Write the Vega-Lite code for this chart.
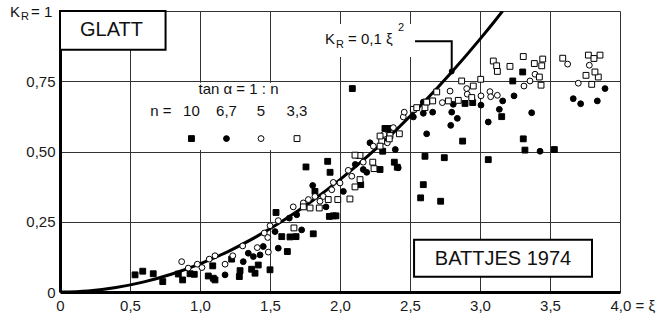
{
  "$schema": "https://vega.github.io/schema/vega-lite/v6.json",
  "width": 560,
  "height": 281,
  "autosize": {"type": "none"},
  "padding": {"left": 60, "top": 11, "right": 41, "bottom": 30},
  "background": "white",
  "config": {"view": {"stroke": null}, "text": {"font": "Liberation Sans", "color": "#111"}},
  "datasets": {
    "bg": [
      {"x": 0.54, "x2": 1.96, "y": 0.505, "y2": 0.745},
      {"x": 1.843, "x2": 2.514, "y": 0.836, "y2": 0.954}
    ],
    "boxes": [
      {"x": 0, "x2": 0.754, "y": 0.862, "y2": 1.0},
      {"x": 2.529, "x2": 3.8, "y": 0.054, "y2": 0.186}
    ],
    "curve": [
      {"x": 0, "y": 0}, {"x": 0.2, "y": 0.004}, {"x": 0.4, "y": 0.016}, {"x": 0.6, "y": 0.036},
      {"x": 0.8, "y": 0.064}, {"x": 1.0, "y": 0.1}, {"x": 1.2, "y": 0.144}, {"x": 1.4, "y": 0.196},
      {"x": 1.6, "y": 0.256}, {"x": 1.8, "y": 0.324}, {"x": 2.0, "y": 0.4}, {"x": 2.2, "y": 0.484},
      {"x": 2.4, "y": 0.576}, {"x": 2.6, "y": 0.676}, {"x": 2.8, "y": 0.784}, {"x": 3.0, "y": 0.9},
      {"x": 3.1, "y": 0.961}, {"x": 3.162, "y": 1.0}
    ],
    "leader": [
      {"x": 2.536, "y": 0.892, "o": 1},
      {"x": 2.798, "y": 0.892, "o": 2},
      {"x": 2.798, "y": 0.79, "o": 3}
    ],
    "dot": [{"x": 2.798, "y": 0.785}],
    "legpts": [
      {"x": 0.939, "y": 0.546, "n": "10"},
      {"x": 1.189, "y": 0.546, "n": "6,7"},
      {"x": 1.436, "y": 0.546, "n": "5"},
      {"x": 1.693, "y": 0.546, "n": "3,3"}
    ],
    "boxtext": [
      {"x": 0.368, "y": 0.932, "t": "GLATT"},
      {"x": 3.164, "y": 0.118, "t": "BATTJES 1974"}
    ],
    "legtext": [
      {"x": 1.275, "y": 0.721, "t": "tan α = 1 : n"},
      {"x": 0.721, "y": 0.645, "t": "n ="},
      {"x": 0.939, "y": 0.645, "t": "10"},
      {"x": 1.189, "y": 0.645, "t": "6,7"},
      {"x": 1.436, "y": 0.645, "t": "5"},
      {"x": 1.693, "y": 0.645, "t": "3,3"}
    ],
    "lefttext": [
      {"x": -0.357, "y": 0.998, "t": "K"},
      {"x": -0.207, "y": 0.996, "t": "= 1"},
      {"x": 1.893, "y": 0.9, "t": "K"},
      {"x": 2.057, "y": 0.9, "t": "= 0,1 ξ"}
    ],
    "smalltext": [
      {"x": -0.279, "y": 0.977, "t": "R"},
      {"x": 1.971, "y": 0.879, "t": "R"},
      {"x": 2.414, "y": 0.939, "t": "2"}
    ],
    "pts": [
      {"x": 0.536, "y": 0.061, "n": "10"}, {"x": 0.591, "y": 0.074, "n": "10"}, {"x": 0.666, "y": 0.065, "n": "10"},
      {"x": 0.734, "y": 0.037, "n": "10"}, {"x": 0.845, "y": 0.064, "n": "10"}, {"x": 0.876, "y": 0.043, "n": "10"},
      {"x": 0.929, "y": 0.065, "n": "10"}, {"x": 0.959, "y": 0.063, "n": "10"}, {"x": 1.059, "y": 0.057, "n": "10"},
      {"x": 1.095, "y": 0.049, "n": "10"}, {"x": 1.091, "y": 0.093, "n": "10"}, {"x": 1.107, "y": 0.043, "n": "10"},
      {"x": 1.286, "y": 0.076, "n": "10"}, {"x": 1.281, "y": 0.055, "n": "10"}, {"x": 1.226, "y": 0.117, "n": "10"},
      {"x": 1.369, "y": 0.081, "n": "10"}, {"x": 1.393, "y": 0.067, "n": "10"}, {"x": 1.416, "y": 0.096, "n": "10"},
      {"x": 1.5, "y": 0.079, "n": "10"}, {"x": 1.543, "y": 0.283, "n": "10"}, {"x": 1.584, "y": 0.197, "n": "10"},
      {"x": 1.624, "y": 0.144, "n": "10"}, {"x": 1.643, "y": 0.196, "n": "10"}, {"x": 1.686, "y": 0.197, "n": "10"},
      {"x": 1.809, "y": 0.207, "n": "10"}, {"x": 1.757, "y": 0.445, "n": "10"}, {"x": 1.821, "y": 0.358, "n": "10"},
      {"x": 1.912, "y": 0.465, "n": "10"}, {"x": 1.929, "y": 0.426, "n": "10"}, {"x": 1.924, "y": 0.269, "n": "10"},
      {"x": 1.952, "y": 0.271, "n": "10"}, {"x": 1.971, "y": 0.271, "n": "10"}, {"x": 2.088, "y": 0.724, "n": "10"},
      {"x": 2.286, "y": 0.436, "n": "10"}, {"x": 2.305, "y": 0.501, "n": "10"}, {"x": 2.388, "y": 0.462, "n": "10"},
      {"x": 2.409, "y": 0.444, "n": "10"}, {"x": 2.148, "y": 0.382, "n": "10"}, {"x": 2.321, "y": 0.582, "n": "10"},
      {"x": 2.345, "y": 0.582, "n": "10"}, {"x": 2.595, "y": 0.382, "n": "10"}, {"x": 2.576, "y": 0.335, "n": "10"},
      {"x": 2.719, "y": 0.323, "n": "10"}, {"x": 2.607, "y": 0.483, "n": "10"}, {"x": 2.745, "y": 0.478, "n": "10"},
      {"x": 2.876, "y": 0.537, "n": "10"}, {"x": 3.059, "y": 0.471, "n": "10"}, {"x": 2.893, "y": 0.671, "n": "10"},
      {"x": 2.948, "y": 0.674, "n": "10"}, {"x": 3.155, "y": 0.624, "n": "10"}, {"x": 3.234, "y": 0.751, "n": "10"},
      {"x": 3.305, "y": 0.783, "n": "10"}, {"x": 3.309, "y": 0.545, "n": "10"}, {"x": 3.321, "y": 0.505, "n": "10"},
      {"x": 3.531, "y": 0.507, "n": "10"},

      {"x": 1.179, "y": 0.061, "n": "6,7"}, {"x": 1.345, "y": 0.138, "n": "6,7"}, {"x": 1.381, "y": 0.126, "n": "6,7"},
      {"x": 1.429, "y": 0.132, "n": "6,7"}, {"x": 1.452, "y": 0.162, "n": "6,7"}, {"x": 1.536, "y": 0.215, "n": "6,7"},
      {"x": 1.559, "y": 0.156, "n": "6,7"}, {"x": 1.309, "y": 0.108, "n": "6,7"}, {"x": 1.726, "y": 0.221, "n": "6,7"},
      {"x": 1.638, "y": 0.263, "n": "6,7"}, {"x": 1.691, "y": 0.275, "n": "6,7"}, {"x": 1.805, "y": 0.379, "n": "6,7"},
      {"x": 1.9, "y": 0.303, "n": "6,7"}, {"x": 2.024, "y": 0.358, "n": "6,7"}, {"x": 2.109, "y": 0.454, "n": "6,7"},
      {"x": 2.166, "y": 0.436, "n": "6,7"}, {"x": 2.191, "y": 0.426, "n": "6,7"}, {"x": 2.214, "y": 0.531, "n": "6,7"},
      {"x": 2.395, "y": 0.507, "n": "6,7"}, {"x": 2.416, "y": 0.442, "n": "6,7"}, {"x": 2.341, "y": 0.579, "n": "6,7"},
      {"x": 2.524, "y": 0.623, "n": "6,7"}, {"x": 2.595, "y": 0.676, "n": "6,7"}, {"x": 2.595, "y": 0.636, "n": "6,7"},
      {"x": 2.662, "y": 0.64, "n": "6,7"}, {"x": 2.798, "y": 0.64, "n": "6,7"}, {"x": 2.809, "y": 0.668, "n": "6,7"},
      {"x": 2.838, "y": 0.618, "n": "6,7"}, {"x": 2.791, "y": 0.593, "n": "6,7"}, {"x": 2.619, "y": 0.563, "n": "6,7"},
      {"x": 3.007, "y": 0.665, "n": "6,7"}, {"x": 3.059, "y": 0.605, "n": "6,7"}, {"x": 3.138, "y": 0.65, "n": "6,7"},
      {"x": 3.162, "y": 0.68, "n": "6,7"}, {"x": 3.243, "y": 0.698, "n": "6,7"}, {"x": 3.369, "y": 0.638, "n": "6,7"},
      {"x": 3.429, "y": 0.501, "n": "6,7"}, {"x": 3.666, "y": 0.688, "n": "6,7"}, {"x": 3.719, "y": 0.67, "n": "6,7"},
      {"x": 3.838, "y": 0.68, "n": "6,7"}, {"x": 3.893, "y": 0.724, "n": "6,7"},

      {"x": 0.869, "y": 0.108, "n": "5"}, {"x": 0.916, "y": 0.085, "n": "5"}, {"x": 0.981, "y": 0.099, "n": "5"},
      {"x": 1.014, "y": 0.087, "n": "5"}, {"x": 1.066, "y": 0.117, "n": "5"}, {"x": 1.107, "y": 0.129, "n": "5"},
      {"x": 1.179, "y": 0.099, "n": "5"}, {"x": 1.234, "y": 0.129, "n": "5"}, {"x": 1.305, "y": 0.164, "n": "5"},
      {"x": 1.409, "y": 0.158, "n": "5"}, {"x": 1.459, "y": 0.21, "n": "5"}, {"x": 1.484, "y": 0.194, "n": "5"},
      {"x": 1.488, "y": 0.142, "n": "5"}, {"x": 1.5, "y": 0.236, "n": "5"}, {"x": 1.559, "y": 0.254, "n": "5"},
      {"x": 1.666, "y": 0.303, "n": "5"}, {"x": 1.738, "y": 0.317, "n": "5"}, {"x": 1.774, "y": 0.329, "n": "5"},
      {"x": 1.821, "y": 0.34, "n": "5"}, {"x": 1.857, "y": 0.323, "n": "5"}, {"x": 1.881, "y": 0.34, "n": "5"},
      {"x": 1.941, "y": 0.364, "n": "5"}, {"x": 1.952, "y": 0.39, "n": "5"}, {"x": 2.0, "y": 0.388, "n": "5"},
      {"x": 2.059, "y": 0.433, "n": "5"}, {"x": 2.084, "y": 0.412, "n": "5"}, {"x": 2.166, "y": 0.462, "n": "5"},
      {"x": 2.124, "y": 0.486, "n": "5"}, {"x": 2.238, "y": 0.519, "n": "5"}, {"x": 2.314, "y": 0.561, "n": "5"},
      {"x": 2.338, "y": 0.531, "n": "5"}, {"x": 2.381, "y": 0.585, "n": "5"}, {"x": 2.452, "y": 0.623, "n": "5"},
      {"x": 2.459, "y": 0.64, "n": "5"}, {"x": 2.731, "y": 0.674, "n": "5"}, {"x": 2.786, "y": 0.715, "n": "5"},
      {"x": 2.905, "y": 0.724, "n": "5"}, {"x": 2.909, "y": 0.704, "n": "5"}, {"x": 3.007, "y": 0.698, "n": "5"},
      {"x": 3.071, "y": 0.713, "n": "5"}, {"x": 3.076, "y": 0.695, "n": "5"}, {"x": 3.124, "y": 0.7, "n": "5"},
      {"x": 3.357, "y": 0.751, "n": "5"}, {"x": 3.314, "y": 0.733, "n": "5"}, {"x": 3.393, "y": 0.775, "n": "5"},
      {"x": 3.626, "y": 0.811, "n": "5"}, {"x": 3.781, "y": 0.807, "n": "5"}, {"x": 3.702, "y": 0.743, "n": "5"},

      {"x": 1.671, "y": 0.228, "n": "3,3"}, {"x": 1.738, "y": 0.303, "n": "3,3"}, {"x": 1.786, "y": 0.299, "n": "3,3"},
      {"x": 1.852, "y": 0.299, "n": "3,3"}, {"x": 1.916, "y": 0.329, "n": "3,3"}, {"x": 1.984, "y": 0.329, "n": "3,3"},
      {"x": 2.071, "y": 0.331, "n": "3,3"}, {"x": 2.107, "y": 0.374, "n": "3,3"}, {"x": 2.234, "y": 0.462, "n": "3,3"},
      {"x": 2.143, "y": 0.486, "n": "3,3"}, {"x": 2.298, "y": 0.537, "n": "3,3"}, {"x": 2.357, "y": 0.557, "n": "3,3"},
      {"x": 2.107, "y": 0.487, "n": "3,3"}, {"x": 2.243, "y": 0.439, "n": "3,3"}, {"x": 2.286, "y": 0.555, "n": "3,3"},
      {"x": 2.286, "y": 0.519, "n": "3,3"}, {"x": 2.352, "y": 0.545, "n": "3,3"}, {"x": 2.424, "y": 0.563, "n": "3,3"},
      {"x": 2.524, "y": 0.65, "n": "3,3"}, {"x": 2.548, "y": 0.656, "n": "3,3"}, {"x": 2.143, "y": 0.4, "n": "3,3"},
      {"x": 2.691, "y": 0.712, "n": "3,3"}, {"x": 2.869, "y": 0.751, "n": "3,3"}, {"x": 2.952, "y": 0.733, "n": "3,3"},
      {"x": 3.005, "y": 0.757, "n": "3,3"}, {"x": 3.095, "y": 0.822, "n": "3,3"}, {"x": 3.119, "y": 0.805, "n": "3,3"},
      {"x": 3.124, "y": 0.785, "n": "3,3"}, {"x": 3.214, "y": 0.803, "n": "3,3"}, {"x": 2.662, "y": 0.68, "n": "3,3"},
      {"x": 2.607, "y": 0.656, "n": "3,3"}, {"x": 2.619, "y": 0.676, "n": "3,3"}, {"x": 2.774, "y": 0.68, "n": "3,3"},
      {"x": 2.845, "y": 0.682, "n": "3,3"}, {"x": 2.941, "y": 0.692, "n": "3,3"}, {"x": 3.309, "y": 0.838, "n": "3,3"},
      {"x": 3.388, "y": 0.813, "n": "3,3"}, {"x": 3.448, "y": 0.829, "n": "3,3"}, {"x": 3.441, "y": 0.805, "n": "3,3"},
      {"x": 3.424, "y": 0.765, "n": "3,3"}, {"x": 3.436, "y": 0.736, "n": "3,3"}, {"x": 3.591, "y": 0.832, "n": "3,3"},
      {"x": 3.774, "y": 0.843, "n": "3,3"}, {"x": 3.857, "y": 0.843, "n": "3,3"}, {"x": 3.814, "y": 0.831, "n": "3,3"},
      {"x": 3.757, "y": 0.771, "n": "3,3"}, {"x": 3.798, "y": 0.739, "n": "3,3"}, {"x": 3.845, "y": 0.765, "n": "3,3"},
      {"x": 3.821, "y": 0.783, "n": "3,3"}
    ]
  },
  "encoding": {
    "x": {
      "field": "x", "type": "quantitative",
      "scale": {"domain": [0, 4], "nice": false, "zero": false},
      "axis": {
        "title": null, "values": [0, 0.5, 1, 1.5, 2, 2.5, 3, 3.5, 4],
        "labelExpr": "datum.value == 0 ? '0' : (datum.value == 4 ? '4,0 = ξ' : replace(format(datum.value, '.1f'), '.', ','))",
        "grid": true, "gridColor": "#333", "gridWidth": 1,
        "ticks": false, "domain": true, "domainColor": "#000", "domainWidth": 3,
        "labelFont": "Liberation Sans", "labelFontSize": 15, "labelColor": "#1a1a1a", "labelPadding": 6,
        "labelFlush": false, "labelOverlap": false,
        "labelAlign": {"condition": {"test": "datum.value == 4", "value": "left"}, "value": "center"},
        "labelOffset": {"condition": {"test": "datum.value == 4", "value": -10}, "value": 0}
      }
    },
    "y": {
      "field": "y", "type": "quantitative",
      "scale": {"domain": [0, 1], "nice": false},
      "axis": {
        "title": null, "values": [0, 0.25, 0.5, 0.75, 1],
        "labelExpr": "datum.value == 0 ? '0' : (datum.value == 1 ? '' : replace(format(datum.value, '.2f'), '.', ','))",
        "grid": true, "gridColor": "#333", "gridWidth": 1,
        "ticks": false, "domain": true, "domainColor": "#000", "domainWidth": 3,
        "labelFont": "Liberation Sans", "labelFontSize": 15, "labelColor": "#1a1a1a", "labelPadding": 5,
        "labelFlush": false, "labelOverlap": false
      }
    }
  },
  "layer": [
    {
      "data": {"name": "bg"},
      "mark": {"type": "rect", "fill": "white", "stroke": null},
      "encoding": {"x2": {"field": "x2"}, "y2": {"field": "y2"}}
    },
    {
      "data": {"name": "curve"},
      "mark": {"type": "line", "color": "#000", "strokeWidth": 3, "clip": true, "interpolate": "monotone"},
      "encoding": {}
    },
    {
      "data": {"name": "leader"},
      "mark": {"type": "line", "color": "#000", "strokeWidth": 2},
      "encoding": {"order": {"field": "o", "type": "quantitative"}}
    },
    {
      "data": {"name": "dot"},
      "mark": {"type": "point", "filled": true, "color": "#000", "size": 32, "opacity": 1}
    },
    {
      "data": {"name": "pts"},
      "mark": {"type": "point", "filled": true, "stroke": "#000", "strokeWidth": 1, "size": 34, "opacity": 1},
      "encoding": {
        "shape": {"field": "n", "type": "nominal", "scale": {"domain": ["10", "6,7", "5", "3,3"], "range": ["square", "circle", "circle", "square"]}, "legend": null},
        "fill": {"field": "n", "type": "nominal", "scale": {"domain": ["10", "6,7", "5", "3,3"], "range": ["#000", "#000", "#fff", "#fff"]}, "legend": null}
      }
    },
    {
      "data": {"name": "legpts"},
      "mark": {"type": "point", "filled": true, "stroke": "#000", "strokeWidth": 1, "size": 34, "opacity": 1},
      "encoding": {
        "shape": {"field": "n", "type": "nominal", "legend": null},
        "fill": {"field": "n", "type": "nominal", "legend": null}
      }
    },
    {
      "data": {"name": "boxes"},
      "mark": {"type": "rect", "fill": "white", "stroke": "#000", "strokeWidth": 2},
      "encoding": {"x2": {"field": "x2"}, "y2": {"field": "y2"}}
    },
    {
      "data": {"name": "boxtext"},
      "mark": {"type": "text", "fontSize": 20, "align": "center", "baseline": "middle"},
      "encoding": {"text": {"field": "t"}}
    },
    {
      "data": {"name": "legtext"},
      "mark": {"type": "text", "fontSize": 15, "align": "center", "baseline": "middle"},
      "encoding": {"text": {"field": "t"}}
    },
    {
      "data": {"name": "lefttext"},
      "mark": {"type": "text", "fontSize": 15, "align": "left", "baseline": "middle"},
      "encoding": {"text": {"field": "t"}}
    },
    {
      "data": {"name": "smalltext"},
      "mark": {"type": "text", "fontSize": 11, "align": "left", "baseline": "middle"},
      "encoding": {"text": {"field": "t"}}
    }
  ]
}
